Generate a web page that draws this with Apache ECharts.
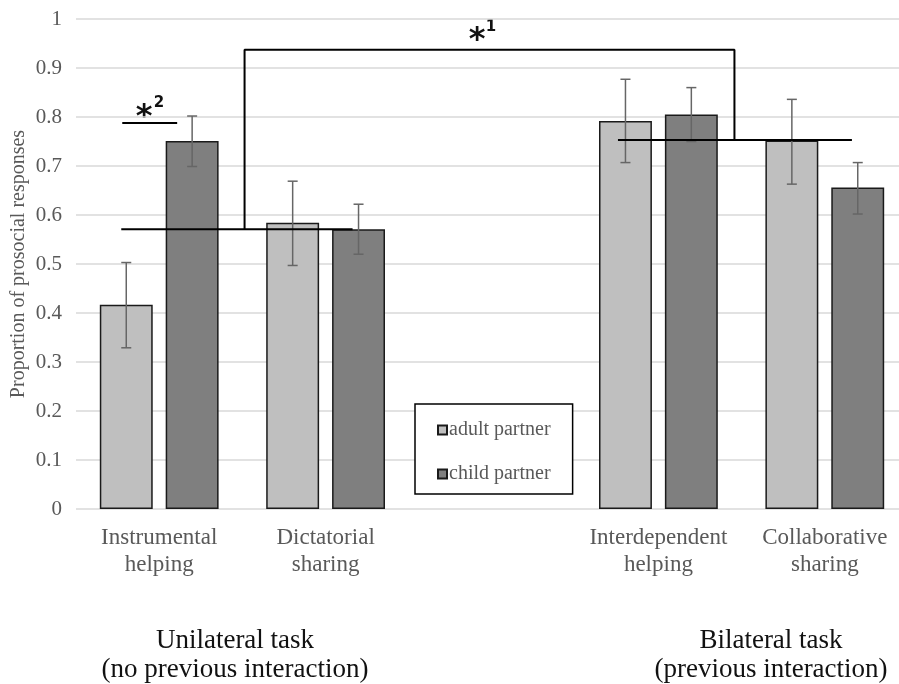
<!DOCTYPE html>
<html>
<head>
<meta charset="utf-8">
<script src="https://cdn.jsdelivr.net/npm/echarts@6/dist/echarts.min.js"></script>
<style>html,body{margin:0;padding:0;background:#fff}#chart{width:899px;height:684px}</style>
</head>
<body>
<div id="chart"></div>
<script>
// ---------- data ----------
const categories = ['Instrumental\nhelping', 'Dictatorial\nsharing', '', 'Interdependent\nhelping', 'Collaborative\nsharing'];
const seriesNames = ['adult partner', 'child partner'];
const adultValues = [0.417, 0.584, null, 0.792, 0.752];
const childValues = [0.751, 0.571, null, 0.805, 0.656];
const adultErrLow  = [0.329, 0.497, null, 0.707, 0.663];
const adultErrHigh = [0.503, 0.669, null, 0.877, 0.836];
const childErrLow  = [0.699, 0.520, null, 0.750, 0.602];
const childErrHigh = [0.802, 0.622, null, 0.860, 0.707];
const yTickMin = 0, yTickMax = 1, yTickStep = 0.1;
const unilateralMean = 0.571;
const bilateralMean = 0.753;
const bracketLevel = 0.937;
const sig2Level = 0.788;
const groupLabels = ['Unilateral task\n(no previous interaction)', 'Bilateral task\n(previous interaction)'];

// annotation extents in category-index units (hidden value axis)
const unilateralMeanSpan = [-0.228, 1.162];
const bilateralMeanSpan = [2.757, 4.163];
const bracketX = [0.513, 3.457];
const sig2Span = [-0.222, 0.108];

const chart = echarts.init(document.getElementById('chart'));
const serif = 'Liberation Serif';
const BAR_W = 0.318, BAR_GAP = 0.245;

function errData(lo, hi) {
  const out = [];
  lo.forEach((v, i) => { if (v != null) out.push([i, v, hi[i]]); });
  return out;
}
function errSeries(lo, hi, side) {
  return {
    type: 'custom', xAxisIndex: 0, yAxisIndex: 0, z: 5, silent: true, clip: false,
    data: errData(lo, hi),
    encode: { x: 0, y: [1, 2] },
    renderItem: function (params, api) {
      const i = api.value(0);
      const top = api.coord([i, api.value(2)]);
      const bot = api.coord([i, api.value(1)]);
      const band = api.size([1, 0])[0];
      const off = side * band * (BAR_W + BAR_W * BAR_GAP) / 2;
      const x = top[0] + off;
      const cap = 5;
      const st = { stroke: '#666666', lineWidth: 1.5 };
      return { type: 'group', children: [
        { type: 'line', shape: { x1: x, y1: top[1], x2: x, y2: bot[1] }, style: st },
        { type: 'line', shape: { x1: x - cap, y1: top[1], x2: x + cap, y2: top[1] }, style: st },
        { type: 'line', shape: { x1: x - cap, y1: bot[1], x2: x + cap, y2: bot[1] }, style: st }
      ]};
    }
  };
}
function annLine(points) {
  return {
    type: 'line', xAxisIndex: 1, yAxisIndex: 0, z: 6, silent: true, clip: false,
    data: points, showSymbol: false, symbol: 'none',
    lineStyle: { color: '#000', width: 2 }, animation: false
  };
}

const option = {
  animation: false,
  backgroundColor: '#fff',
  grid: { left: 76, width: 832, top: 19, bottom: 175, containLabel: false, outerBoundsMode: 'none' },
  xAxis: [{
    type: 'category', data: categories,
    axisLine: { show: false }, axisTick: { show: false },
    axisLabel: { interval: 0, margin: 15, color: '#595959', fontFamily: serif, fontSize: 23, lineHeight: 27 }
  }, {
    type: 'value', min: -0.5, max: 4.5, show: false
  }],
  yAxis: {
    type: 'value', min: yTickMin, max: yTickMax, interval: yTickStep,
    name: 'Proportion of prosocial responses', nameLocation: 'middle', nameGap: 47, nameMoveOverlap: false,
    nameTextStyle: { color: '#595959', fontFamily: serif, fontSize: 20 },
    axisLine: { show: false }, axisTick: { show: false },
    axisLabel: { margin: 14, color: '#595959', fontFamily: serif, fontSize: 21,
      formatter: v => (Math.round(v * 10) / 10).toString() },
    splitLine: { lineStyle: { color: '#d9d9d9', width: 1.5 } }
  },
  legend: {
    data: seriesNames, orient: 'vertical', left: 415, top: 404,
    icon: 'rect', itemWidth: 9, itemHeight: 9, itemGap: 24,
    borderColor: '#000', borderWidth: 1.5, padding: [16, 22, 10, 22],
    backgroundColor: '#fff',
    textStyle: { fontFamily: serif, fontSize: 20, color: '#595959', padding: [4, 0, 0, -3] }
  },
  series: [
    { name: seriesNames[0], type: 'bar', data: adultValues, barWidth: (BAR_W * 100) + '%', barGap: (BAR_GAP * 100) + '%',
      itemStyle: { color: '#bfbfbf', borderColor: '#1a1a1a', borderWidth: 1.5 } },
    { name: seriesNames[1], type: 'bar', data: childValues, barWidth: (BAR_W * 100) + '%', barGap: (BAR_GAP * 100) + '%',
      itemStyle: { color: '#7f7f7f', borderColor: '#1a1a1a', borderWidth: 1.5 } },
    errSeries(adultErrLow, adultErrHigh, -1),
    errSeries(childErrLow, childErrHigh, 1),
    annLine([[unilateralMeanSpan[0], unilateralMean], [unilateralMeanSpan[1], unilateralMean]]),
    annLine([[bilateralMeanSpan[0], bilateralMean], [bilateralMeanSpan[1], bilateralMean]]),
    annLine([[bracketX[0], unilateralMean], [bracketX[0], bracketLevel], [bracketX[1], bracketLevel], [bracketX[1], bilateralMean]]),
    annLine([[sig2Span[0], sig2Level], [sig2Span[1], sig2Level]])
  ],
  graphic: [
    { type: 'text', x: 235, y: 655, style: { text: groupLabels[0], textAlign: 'center', textVerticalAlign: 'middle',
      font: '27px "Liberation Serif"', lineHeight: 29, fill: '#111' } },
    { type: 'text', x: 771, y: 655, style: { text: groupLabels[1], textAlign: 'center', textVerticalAlign: 'middle',
      font: '27px "Liberation Serif"', lineHeight: 29, fill: '#111' } },
    { type: 'text', x: 144, y: 118, style: { text: '*', textAlign: 'center', textVerticalAlign: 'middle',
      font: 'bold 32px "DejaVu Sans"', fill: '#111' } },
    { type: 'text', x: 159, y: 103, style: { text: '2', textAlign: 'center', textVerticalAlign: 'middle',
      font: 'bold 15px "DejaVu Sans"', fill: '#111' } },
    { type: 'text', x: 477, y: 41, style: { text: '*', textAlign: 'center', textVerticalAlign: 'middle',
      font: 'bold 32px "DejaVu Sans"', fill: '#111' } },
    { type: 'text', x: 491, y: 27, style: { text: '1', textAlign: 'center', textVerticalAlign: 'middle',
      font: 'bold 15px "DejaVu Sans"', fill: '#111' } }
  ]
};
chart.setOption(option);
</script>
</body>
</html>
